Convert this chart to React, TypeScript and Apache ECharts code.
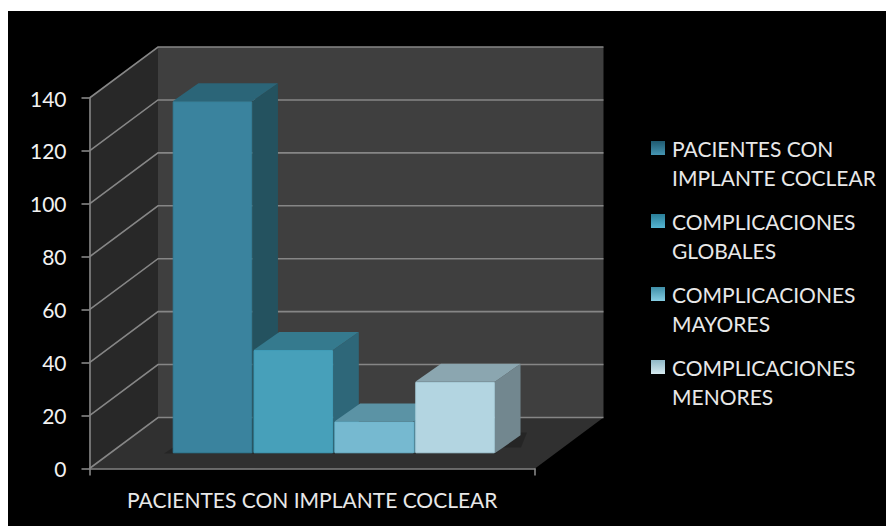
import React, { useEffect, useRef } from "react";
import * as echarts from "echarts";

const categories = ["PACIENTES CON IMPLANTE COCLEAR"];
const seriesNames = [
  "PACIENTES CON\nIMPLANTE COCLEAR",
  "COMPLICACIONES\nGLOBALES",
  "COMPLICACIONES\nMAYORES",
  "COMPLICACIONES\nMENORES",
];
const seriesValues = [133, 39, 12, 27];
const tickValues = [0, 20, 40, 60, 80, 100, 120, 140];

const frontColors = ["#3A839E", "#47A0BA", "#76B9D0", "#B3D5E1"];
const topColors = ["#2B6578", "#357A8E", "#5B93A5", "#8BA6B0"];
const sideColors = ["#24525F", "#2E6779", "#53889A", "#72878F"];
const edgeColors = ["#337F99", "#42A0BC", "#6FB8D0", "#A9CFDC"];
const legendTop = ["#1F5A70", "#2A7E98", "#3F8FA8", "#8FB8C6"];
const legendBottom = ["#4595B2", "#55B5D2", "#86CDE2", "#D5EAF0"];

const FONT = "Lato";
const GRID = { left: 89.5, right: 351, top: 98, bottom: 57.5 };
const DEPTH_X = 68.5;
const DEPTH_Y = -51;
const GRID_LINE = "#868686";

const wallItem = (params: any) => {
  const c = params.coordSys;
  const l = c.x;
  const r = c.x + c.width;
  const t = c.y;
  const b = c.y + c.height;
  const poly = (points: number[][], fill: string) => ({
    type: "polygon",
    shape: { points },
    style: { fill },
    silent: true,
  });
  return {
    type: "group",
    children: [
      poly([[l + DEPTH_X, t + DEPTH_Y], [r + DEPTH_X, t + DEPTH_Y], [r + DEPTH_X, b + DEPTH_Y], [l + DEPTH_X, b + DEPTH_Y]], "#3F3F3F"),
      poly([[l, t], [l + DEPTH_X, t + DEPTH_Y], [l + DEPTH_X, b + DEPTH_Y], [l, b]], "#282828"),
      poly([[l, b], [l + DEPTH_X, b + DEPTH_Y], [r + DEPTH_X, b + DEPTH_Y], [r, b]], "#303030"),
    ],
  };
};

const shadowItem = (params: any) => {
  const c = params.coordSys;
  const r = c.x + c.width;
  const b = c.y + c.height;
  return {
    type: "polygon",
    shape: {
      points: [[164, b - 15], [173, b - 21], [r - 14, b - 21], [r - 8, b - 36], [r - 16, b - 36], [r - 39, b - 15]],
    },
    style: { fill: "rgba(0,0,0,0.22)" },
    silent: true,
  };
};

const tickItem = (params: any, api: any) => {
  const c = params.coordSys;
  const p = api.coord([0, api.value(1)]);
  const x = c.x;
  const y = p[1];
  const lineStyle = { stroke: GRID_LINE, lineWidth: 1.6, fill: "none" };
  return {
    type: "polyline",
    shape: {
      points: [[x, y], [x + DEPTH_X, y + DEPTH_Y], [x + c.width + DEPTH_X, y + DEPTH_Y]],
    },
    style: lineStyle,
    silent: true,
  };
};

const barItem = (index: number) => (params: any, api: any) => {
  const band = api.size([1, 0])[0];
  const base = api.coord([0, 0]);
  const top = api.coord([0, api.value(1)]);
  const slot = band * 0.1815;
  const width = band * 0.1785;
  const floorX = base[0] - slot * 2 + 22.2;
  const floorY = -15.2;
  const x0 = floorX + index * slot;
  const x1 = x0 + width;
  const yb = base[1] + floorY;
  const yt = top[1] + floorY;
  const dx = 25.7;
  const dy = -18;
  return {
    type: "group",
    children: [
      {
        type: "polygon",
        shape: { points: [[x1, yb], [x1 + dx, yb + dy], [x1 + dx, yt + dy], [x1, yt]] },
        style: { fill: sideColors[index] },
      },
      {
        type: "polygon",
        shape: { points: [[x0, yt], [x0 + dx, yt + dy], [x1 + dx, yt + dy], [x1, yt]] },
        style: { fill: topColors[index] },
      },
      {
        type: "rect",
        shape: { x: x0 + 0.5, y: yt + 0.5, width: width - 1, height: yb - yt - 1 },
        style: { fill: frontColors[index], stroke: edgeColors[index], lineWidth: 1 },
      },
    ],
  };
};

export default function App() {
  const ref = useRef<HTMLDivElement>(null);
  useEffect(() => {
    const chart = echarts.init(ref.current!, undefined, { renderer: "svg" });
    chart.setOption({
      animation: false,
      backgroundColor: "#FFFFFF",
      textStyle: { fontFamily: FONT },
      graphic: [
        {
          type: "rect",
          z: -10,
          silent: true,
          shape: { x: 8, y: 11, width: 878, height: 515 },
          style: { fill: "#000000" },
        },
      ],
      grid: GRID,
      legend: {
        orient: "vertical",
        left: 651,
        top: 104.5,
        padding: 0,
        itemWidth: 14,
        itemHeight: 14,
        itemGap: -14,
        selectedMode: false,
        icon: "rect",
        formatter: (name: string) => "\n" + name,
        textStyle: {
          color: "#E8E8E8",
          fontFamily: FONT,
          fontSize: 21,
          lineHeight: 29,
          padding: [0, 0, 0, 2],
        },
        data: seriesNames.map((name, i) => ({
          name,
          itemStyle: {
            color: new echarts.graphic.LinearGradient(0, 0, 0, 1, [
              { offset: 0, color: legendTop[i] },
              { offset: 1, color: legendBottom[i] },
            ]),
          },
        })),
      },
      xAxis: {
        type: "category",
        data: categories,
        z: 10,
        axisLine: { lineStyle: { color: GRID_LINE, width: 1.6 } },
        axisTick: { show: true, alignWithLabel: false, length: 7, lineStyle: { color: GRID_LINE, width: 1.6 } },
        axisLabel: { color: "#E8E8E8", fontSize: 21, fontFamily: FONT, margin: 20 },
      },
      yAxis: {
        type: "value",
        min: 0,
        max: 140,
        interval: 20,
        z: 10,
        axisLine: { show: true, lineStyle: { color: GRID_LINE, width: 1.6 } },
        axisTick: { show: true, length: 8, lineStyle: { color: GRID_LINE, width: 1.6 } },
        axisLabel: { color: "#F2F2F2", fontSize: 21, fontFamily: FONT, margin: 23 },
        splitLine: { show: false },
      },
      series: [
        {
          type: "custom",
          name: "paredes",
          z: 1,
          clip: false,
          silent: true,
          renderItem: wallItem,
          data: [[0, 0]],
          encode: { x: 0, y: 1 },
        },
        {
          type: "custom",
          name: "rejilla",
          z: 1.5,
          clip: false,
          silent: true,
          renderItem: tickItem,
          data: tickValues.map((v) => [0, v]),
          encode: { x: 0, y: 1 },
        },
        {
          type: "custom",
          name: "sombra",
          z: 1.7,
          clip: false,
          silent: true,
          renderItem: shadowItem,
          data: [[0, 0]],
          encode: { x: 0, y: 1 },
        },
        ...seriesNames.map((name, i) => ({
          type: "custom",
          name,
          z: 2 + i * 0.1,
          clip: false,
          itemStyle: { color: frontColors[i] },
          renderItem: barItem(i),
          data: [[0, seriesValues[i]]],
          encode: { x: 0, y: 1 },
        })),
      ],
    });
    return () => chart.dispose();
  }, []);
  return (
    <div
      ref={ref}
      style={{ position: "absolute", left: 0, top: 0, width: 886, height: 526, overflow: "hidden" }}
    />
  );
}
